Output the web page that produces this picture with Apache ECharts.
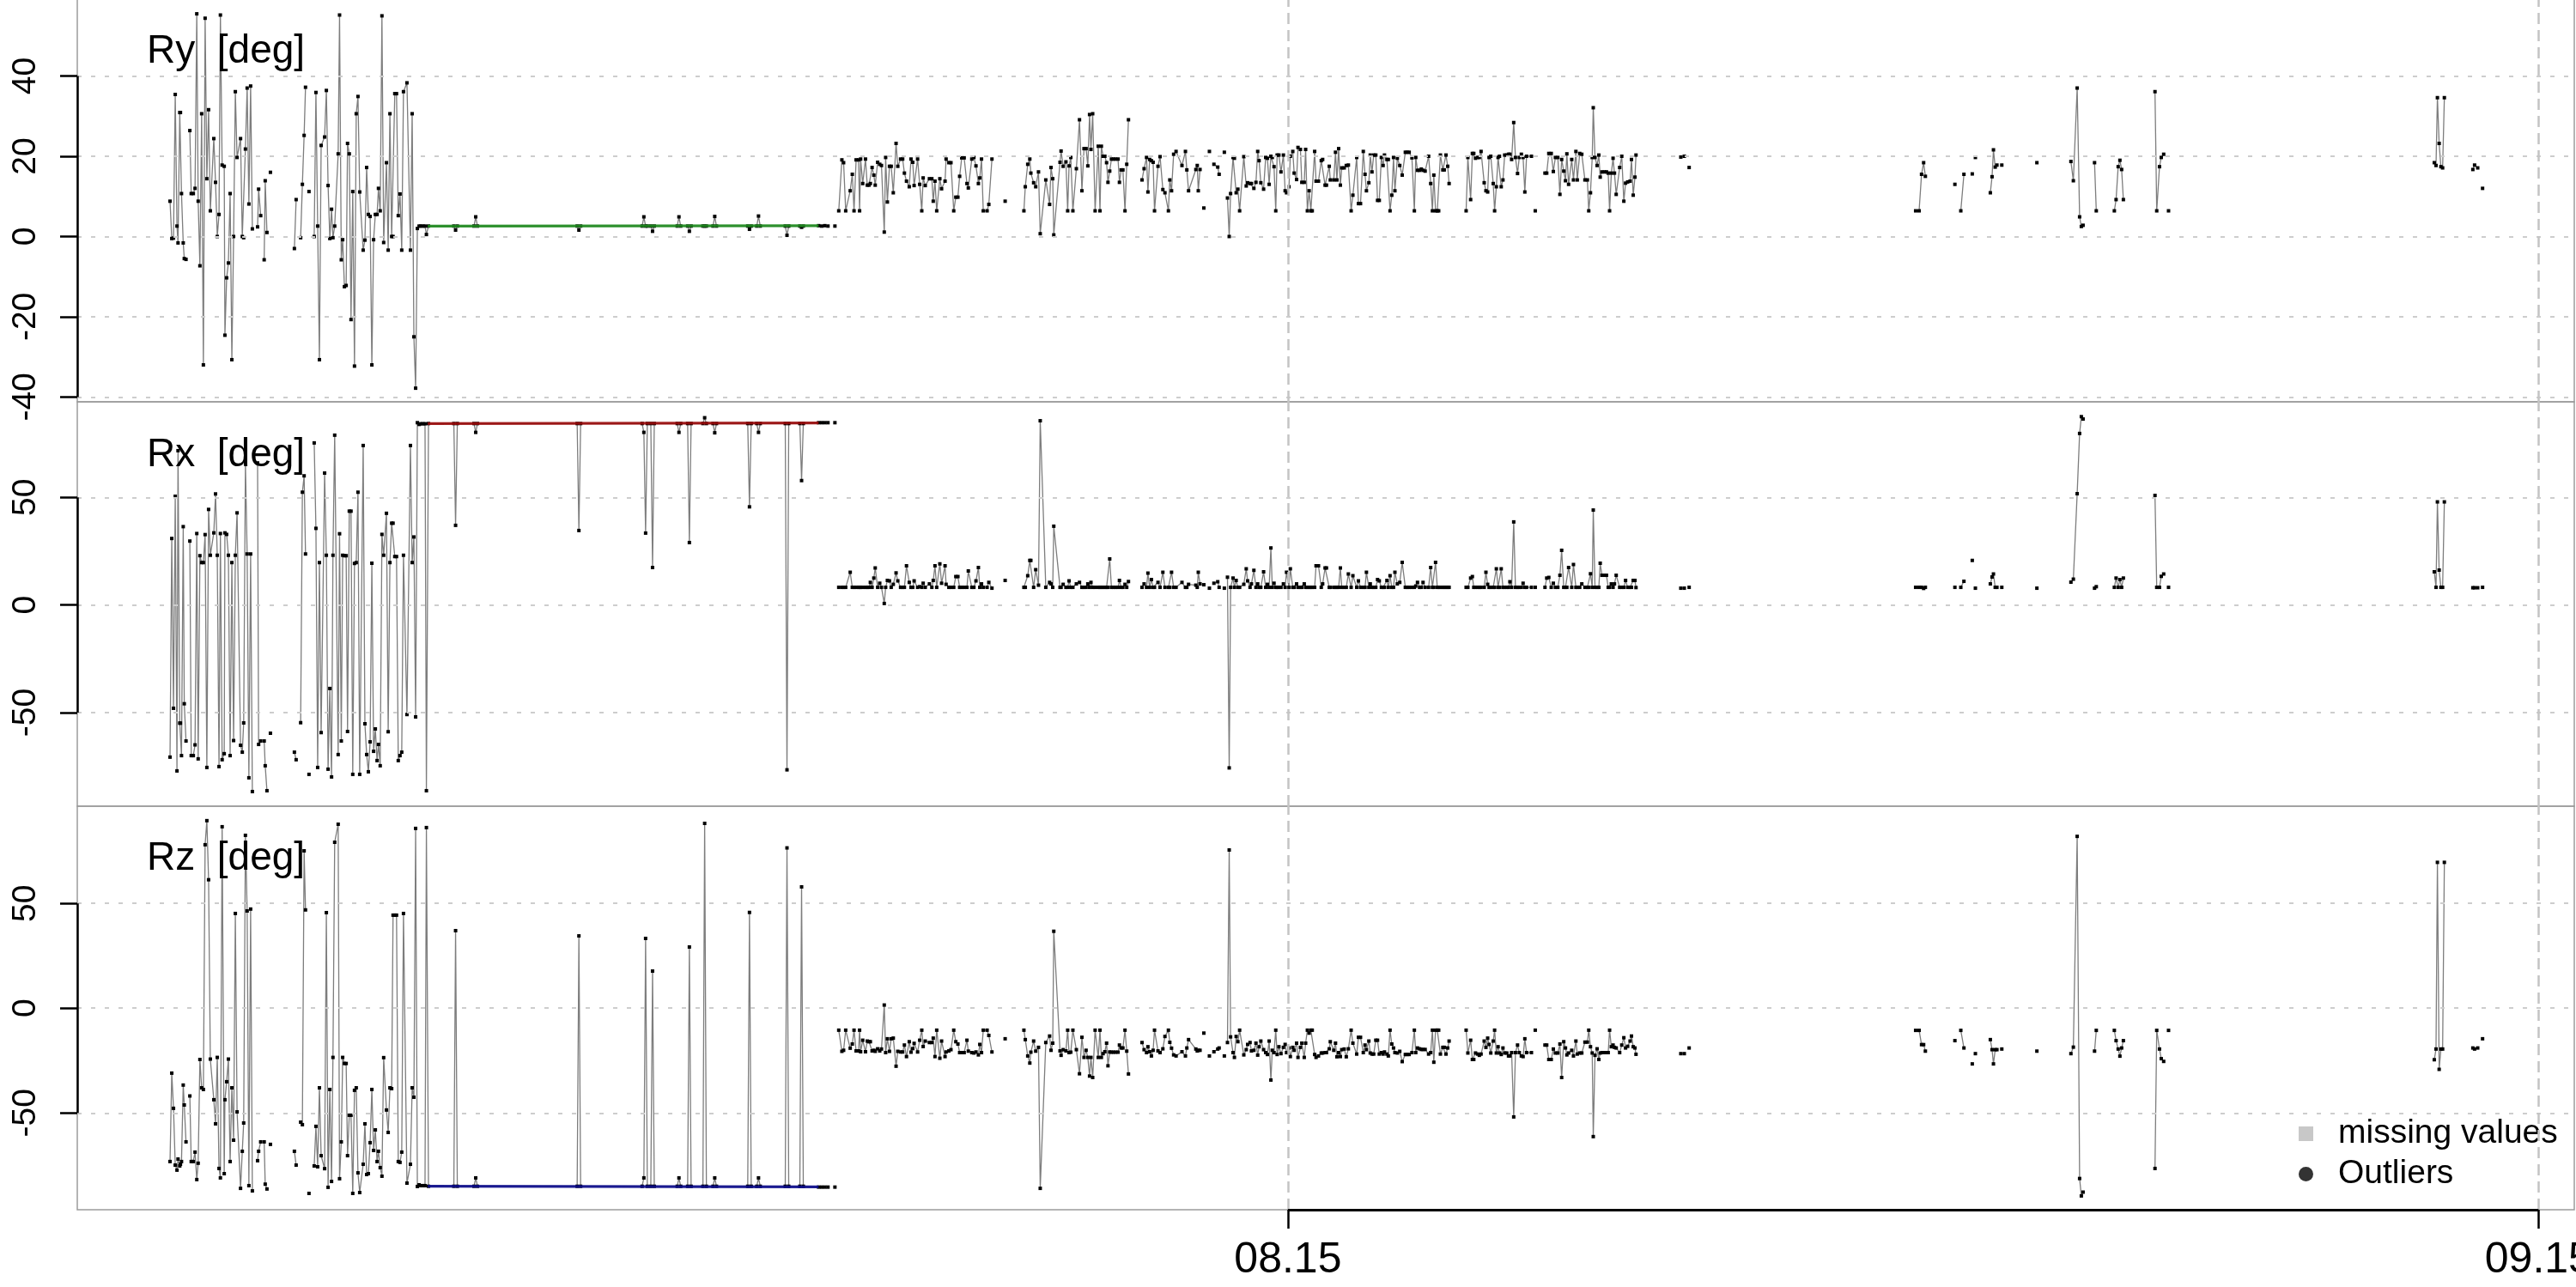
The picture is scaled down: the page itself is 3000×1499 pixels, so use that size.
<!DOCTYPE html>
<html>
<head>
<meta charset="utf-8">
<script src="https://cdn.jsdelivr.net/npm/echarts@6/dist/echarts.min.js"></script>
<style>
  html, body { margin: 0; padding: 0; background: #fff; }
  #chart { width: 3000px; height: 1499px; }
</style>
</head>
<body>
<div id="chart"></div>
<script>
// === Time: seconds relative to 08:15:00, null = missing sample (line break) ===

// first noisy stretch
const tNoisy = [-3218,-3213,-3208,-3203,-3198,-3195,-3190,-3188,-3185,-3180,-3177,-3172,null,
  -3161,-3157,-3151,-3146,-3141,-3137,-3132,-3127,-3122,-3117,-3112,-3107,-3102,-3092,-3087,-3082,-3077,-3073,-3068,-3062,-3060,-3055,-3050,-3045,-3040,-3035,-3030,-3025,-3015,-3010,-3006,-3001,-2996,-2991,-2986,-2981,null,
  -2966,-2963,-2957,null,-2947,-2944,-2939,null,-2929,null,-2860,-2855,null,-2842,-2837,-2832,-2828,null,-2818,null,
  -2803,-2798,-2793,-2788,-2783,-2773,-2768,-2763,-2758,-2753,-2749,-2744,
  -2734,-2730,-2725,-2721,-2716,-2711,-2707,-2702,-2697,-2692,-2687,-2682,-2677,-2672,
  -2662,-2657,-2652,-2647,-2642,-2637,-2632,-2627,-2622,-2618,-2613,-2608,-2603,
  -2595,-2590,-2585,-2580,-2576,-2571,-2566,-2561,-2556,-2551,-2546,
  -2536,-2526,-2521,-2516,-2511,-2506,-2501,-2496,-2490,-2484,-2480];
const ryNoisy = [8.8,-0.5,-0.4,35.4,2.6,-1.6,30.9,30.9,10.7,-1.6,-5.5,-5.7,null,
  26.4,10.7,10.7,12,55.5,8.8,-7.3,30.6,-32,54.4,14.4,31.6,6.4,24.4,13.5,0,5.5,55.2,17.8,17.5,-24.6,-10.3,-6.6,10.7,-30.7,0,36.1,19.7,24.4,0,-0.3,21.8,37,8.1,37.5,1.9,null,
  2.4,11.8,5.2,null,-5.8,13.9,1,null,16,null,-3,9.2,null,-0.3,13,25.2,37.2,null,11.2,null,
  0,35.9,2.6,-30.7,22.7,24.8,36.4,12.7,-0.5,6.8,-0.3,2.6,
  20.6,55.2,-5.8,-0.8,-12.5,-12.2,23.2,20.6,-20.7,11.2,-32.3,30.6,34.9,11.1,
  -3.4,-0.9,17.2,5.5,5,-32,-0.8,5.5,5.5,12,6.4,55,-1.5,
  18.4,-3.4,30.6,0,0,35.6,35.6,5.2,10.6,-3.4,36.1,
  38.3,-3.4,30.6,-25,-37.8,2,2.6,2.6,2.6,2.6,0.5];
const rxNoisy = [-70.7,30.9,-48,50.5,-77.1,71.7,-54.9,-54.9,-70,36.4,-45.9,-63.2,null,
  29.7,-70,-70,-65,33.2,-71.5,22.9,19.7,19.7,32.7,-75.5,44.4,23.1,33.5,51.6,23.1,-75.1,33.2,-71.9,-69.1,33.5,32.8,23.1,-70,19.7,-63,23.1,42.8,-65.2,-68.4,-54.8,66,23.7,-80.3,23.7,-86.7,null,
  66,-64.8,-63.2,null,-63.2,-74.7,-86.3,null,-59.6,null,-68.4,-71.9,null,-54.7,52.4,60,23.7,null,-78.7,null,
  75.3,35.6,-75.5,19.7,-59.3,61.3,23.1,-76.3,-38.8,-79.9,23.1,78.9,
  -69.5,33.1,-63.2,23.1,22.9,22.9,-58.8,43.6,43.6,-78.7,19.3,19.7,52.4,-78.7,
  74.1,-55.2,-69.5,-77.5,-63.6,19.4,-68,-57.6,-72.3,-64.8,-74.7,32.8,23.1,
  42.6,-58.9,19.7,38,38,22.5,22.5,-72.3,-70,-68.4,23.1,
  -50.9,74.1,19.7,31.6,-52,84.7,83.9,84.2,84.2,84.2,-86.3];
const rzNoisy = [-73.2,-31,-47.8,-74.9,-77.3,-72,-75.3,-74.5,-73.2,-36.7,-46.2,-63.8,null,
  -41.9,-73.2,-73.2,-68.7,-81.8,-74,-24.5,-38,-38.8,78,89.5,61.3,-24.3,-43.7,-55.2,-23.5,-76.5,-81,86.6,-79,-43.7,-35.1,-24.3,-73.2,-38,-63,45.2,-49.5,-86,-68.3,-54.8,82.5,46.4,-84.7,47.3,-87.2,null,
  -72.8,-68.3,-63.8,null,-63.8,-84,-86.3,null,-65,null,-68.3,-74.9,null,-54.4,-55.6,75.1,46.9,null,-88.4,null,
  -75.3,-56.4,-75.7,-38,-70.4,-76.6,45.6,-85.5,-38.8,-82.7,-23.5,79.2,
  87.8,-81.4,-63.8,-23.5,-26.4,-26.4,-70.4,-51.1,-51.1,-88.4,-39.2,-38,-78.6,-88,
  -74.5,-55.2,-79.4,-79,-64.2,-38.8,-67.9,-58.1,-73.2,-68.3,-76.1,-80.2,-23.6,
  -48.6,-59.3,-38,-38.4,44.4,44.4,44.4,-73.2,-73.6,-68.7,45.2,
  -83.5,-74.5,-38,-42.5,85.8,-85.1,-84.3,-84.7,-84.7,-84.7,86.2];

// resting stretch (sensor flat, with short excursions)
const tFlat = [-2474,-2401,-2396,-2391,-2343,-2338,-2333,-2046,-2041,-2036,-1859,-1854,-1849,-1844,-1834,-1829,-1824,
  -1758,-1753,-1748,-1728,-1723,-1718,-1684,-1679,-1674,-1655,-1650,-1645,-1555,-1550,-1545,-1529,-1524,-1519,
  -1447,-1442,-1437,-1405,-1400,-1395,-1351,-1342,-1333,-1324,null,-1304];
const ryFlat = [2.6,2.6,1.6,2.6,2.6,4.9,2.6,2.6,1.6,2.6,2.6,4.9,2.6,2.6,2.6,1.3,2.6,
  2.6,4.9,2.6,2.6,1.3,2.6,2.6,2.6,2.6,2.6,5,2.6,2.6,1.8,2.6,2.6,5.1,2.6,
  2.6,0.3,2.6,2.6,2.3,2.6,2.7,2.6,2.7,2.6,null,2.6];
const rxFlat = [84.3,84.3,37,84.3,84.3,80.2,84.3,84.3,34.6,84.3,84.3,80.2,33.4,84.3,84.3,17.4,84.3,
  84.3,80.2,84.3,84.3,29,84.3,84.3,87,84.3,84.3,80,84.3,84.3,45.6,84.3,84.3,80.2,84.3,
  84.3,-76.6,84.3,84.3,57.8,84.3,84.7,84.7,84.7,84.7,null,84.7];
const rzFlat = [-85,-85,37,-85,-85,-81,-85,-85,34.5,-85,-85,-81,33.3,-85,-85,17.7,-85,
  -85,-81,-85,-85,29.2,-85,-85,88.2,-85,-85,-81,-85,-85,45.7,-85,-85,-81,-85,
  -85,76.5,-85,-85,57.9,-85,-85.4,-85.4,-85.4,-85.4,null,-85.4];

// coloured trace over the resting stretch
const tRest = [-2476, -1351];
const ryRest = [2.6, 2.7];
const rxRest = [84.3, 84.6];
const rzRest = [-85, -85.3];

// dense stretch around 08.15
const tDense = [-1293,-1284,-1279,-1273,-1260,-1254,-1249,-1243,-1236,-1233,-1230,-1224,-1216,-1211,-1206,-1202,-1197,-1192,-1188,-1181,
  -1175,-1170,-1162,-1158,-1153,-1147,-1142,-1136,-1128,-1123,-1115,-1109,-1104,-1098,-1090,-1085,-1080,-1076,-1066,-1060,
  -1054,-1050,-1044,-1032,-1025,-1021,-1016,-1011,-1002,-997,-987,-984,-976,-970,-962,-956,-950,-945,-939,-932,
  -924,-920,-910,-904,-898,-891,-887,-882,-877,-866,-861,-852,null,-814,null,
  -760,-756,-749,-743,-740,-732,-726,-718,-713,-697,-686,-682,-677,-674,-656,-653,-647,-639,-634,-630,-625,-619,-609,
  -600,-593,-587,-581,-576,-571,-567,-562,-555,-546,-541,-537,-532,-527,-522,-518,-513,-508,-502,-496,-489,-485,-480,-475,-469,-464,-459,null,
  -420,-414,-407,-403,-398,-393,-388,-384,-374,-368,-360,-354,-344,-340,-335,-329,-322,-305,-295,-291,-286,-265,-261,-258,-253,null,
  -242,null,-226,null,-213,-202,-198,null,-183,null,
  -174,-169,-165,-158,-154,-149,-144,-139,-127,-120,-116,-109,-105,-98,-92,-87,-83,-78,-70,-64,
  -59,-54,-49,-45,-40,-35,-31,-26,-20,-13,-8,-4,3,7,14,18,25,29,36,40,
  47,51,56,61,66,70,77,81,88,96,100,107,111,119,122,132,137,141,146,151,
  155,162,168,174,182,187,198,203,209,217,222,226,233,237,242,247,253,258,263,269,
  274,278,285,289,294,299,304,308,315,322,329,338,343,349,357,364,368,373,379,384,
  389,395,405,411,416,420,425,430,434,439,446,450,455,460,464,null,
  513,518,526,531,535,540,546,551,556,565,570,575,579,584,591,595,600,605,609,614,
  619,624,630,635,639,644,650,655,661,666,672,677,682,687,701,null,712,null,
  740,745,751,758,764,770,777,783,788,794,799,803,808,817,822,829,833,840,846,855,
  862,866,871,876,879,884,890,895,899,904,911,917,922,926,931,936,940,945,955,961,
  967,972,978,985,989,994,999,1002];
const ryDense = [6.4,19.1,18.4,6.4,11.4,15.5,6.4,19.1,19.1,6.4,19.3,13.2,19.3,12.8,12.8,13.2,17.2,15.3,12.8,18.5,
  18,17.7,1.1,19.7,8.6,17.5,17.5,10.9,23.2,17.5,19.3,19.3,15.8,13.8,12.4,19.3,18.5,12.7,19.3,13,
  6.4,14.6,12.7,14.4,14.4,8.8,13.8,6.4,14.4,11.9,13.8,19.3,18.4,18.4,6.4,9.8,9.8,15,19.6,19.6,
  13.2,12.1,19.3,19.7,17.6,13.2,14.6,19.3,6.4,6.4,8,19.3,null,8.8,null,
  6.4,12.4,18,19.3,15.8,13.4,12.4,16.1,0.7,14.1,8,17.2,14.4,0.4,18.5,21.3,17.5,18.6,6.4,17.6,19.7,6.4,16.9,
  29.1,11.4,21.9,21.9,17.6,30.4,21.7,30.6,6.4,22.5,6.4,22.5,20,20,18.4,13.5,16.3,19.3,19.3,19.3,19.3,13.5,16.6,16.6,6.4,18,29.1,null,
  14.1,16.9,19.7,11.1,19.2,18.9,18.5,6.4,17.5,19.9,11.7,10.9,6.4,14.1,11.4,20.5,21.2,17.7,21.2,16.6,11.4,16.7,17.7,11.4,16.7,null,
  7.1,null,21.2,null,18,17.3,15.5,null,21,null,
  9.6,0,10.7,19.7,19.5,10.9,11.8,6.4,19.9,12.6,13.4,13.2,13.2,12,13.5,21.2,18.9,13.4,11.8,19.7,
  19.5,13,20,19.7,17.4,6.4,20.3,20.3,16.1,20.3,11.4,10.9,12.4,20,21.2,15.8,14.2,22.2,21.7,13.5,
  13.5,21.7,6.4,11.4,6.4,6.4,21.2,13.8,13.8,18.9,19.2,12.8,12.8,17.5,14.1,14.1,21,14.1,21.9,12.8,
  17.1,17.1,17.7,17.8,6.4,10.3,19.7,8.2,8.2,21.2,15.5,11.4,13.4,20.3,16.1,20.3,20.3,9,9,19.7,
  17.7,20.3,19.2,19.2,6.4,10.3,19.7,11.4,19.5,17.7,15.3,21,21,21,19.6,6.4,19.7,16.5,16.5,16.8,
  16.5,16.3,20,13.2,6.4,15.3,6.4,6.4,6.4,20.3,16.6,16.6,20.3,17.5,13.2,null,
  6.4,19.7,9.2,20.7,20.7,19.5,19.7,19.7,21.2,13.4,11.4,11.1,19.7,20,13.2,6.4,12.4,19.7,20,12.4,
  14.1,20.3,20.3,20.5,20.5,19.2,28.4,19.7,15.7,19.7,20.5,19.7,11.1,20,20,null,6.4,null,
  15.8,15.8,20.7,20.7,16.2,19.7,19.7,10.5,19.2,16.3,13.9,20.6,13,19.2,14.1,21.2,14.1,20.7,20.5,14.1,
  14.1,6.4,10.9,19.7,32.1,19.7,17.7,20.3,14.8,16.1,16.1,16.1,15.8,6.4,15.8,19.5,15.8,10.5,17.2,20,
  8.8,13.3,13.6,13.8,19.2,10.3,14.8,20.3];
const rxDense = [8.2,8.2,8.2,8.2,15.2,8.2,8.2,8.2,8.2,8.2,8.2,8.2,8.2,8.2,8.2,10.5,8.2,12.5,17.2,8.2,
  10.1,8.2,0.7,8.2,11.4,11.2,8.2,9.6,14.9,11.2,8.2,8.2,8.2,18.2,10.5,8.2,8.2,11.2,8.2,8.5,
  8.2,10.1,8.2,9.8,8.2,11.4,18.2,8.2,19.1,10.1,18.2,9.6,8.2,8.2,8.2,13.2,13.2,8.2,8.2,8.2,
  8.2,15.8,8.2,8.2,11.2,17.4,8.2,9.8,8.2,8.2,10.5,7.8,null,11.4,null,
  8.2,8.2,13.6,20.7,20.7,8.2,16.4,9.2,85.6,8.2,10.5,9.8,8.2,36.6,8.2,8.2,9.6,8.2,8.2,11.2,8.2,8.2,9.8,
  10.5,8.2,8.2,8.2,9.8,8.2,10.5,8.2,8.2,8.2,8.2,8.2,8.2,8.2,8.2,8.2,21.4,8.2,8.2,8.2,8.2,11.4,8.2,8.2,9.6,8.2,10.9,null,
  8.2,9.8,8.2,14.8,8.2,11.8,8.2,8.2,10.5,8.2,15.2,8.2,8.2,8.2,15.2,8.2,8.2,10.5,8.2,8.2,9.6,9.2,8.2,15.2,9.8,null,
  9.4,null,7.8,null,10.1,10.8,8.2,null,7.8,null,
  12.9,-75.7,8.2,12.5,8.2,11.4,8.2,8.2,9.6,16.8,11.2,8.2,9.8,16.1,8.2,9.8,8.2,8.2,15.4,8.2,
  9.6,8.2,26.5,8.2,10.1,8.2,8.2,8.2,8.2,9.8,8.2,15.2,8.2,16.8,8.2,8.2,9.8,8.2,8.2,8.2,
  9.8,8.2,8.2,8.2,8.2,8.2,8.2,18.2,18.2,8.2,9.8,17.2,17.2,8.2,8.2,8.2,8.2,8.2,8.2,17.2,
  8.2,8.2,8.2,14.4,8.2,13.6,8.2,11.2,8.2,8.2,8.2,15.2,8.2,9.8,8.2,8.2,8.2,11.8,11.2,8.2,
  8.2,8.2,11.4,8.2,13.6,8.2,8.2,15.2,9.8,10.5,19.8,8.2,8.2,8.2,8.2,8.2,8.8,10.5,8.2,8.2,
  10.5,8.2,8.2,17.4,8.2,8.2,19.8,8.2,8.2,8.2,8.2,8.2,8.2,8.2,8.2,null,
  8.2,8.2,12.5,13.2,8.2,8.2,8.2,8.2,8.2,8.2,15.2,9.6,8.2,8.2,8.2,8.2,16.8,8.2,8.2,16.8,
  8.2,8.2,8.2,8.2,10.8,8.2,38.6,8.2,8.2,8.2,8.2,10.1,8.2,8.2,8.2,null,8.2,null,
  8.2,12.5,12.8,8.2,10.1,8.2,8.2,13.8,25.4,8.2,8.2,8.2,17.4,8.2,18.8,8.2,8.2,8.2,9.8,8.2,
  8.2,8.2,14.5,8.2,44.1,8.2,8.2,8.2,19.4,13.8,13.8,13.8,8.2,8.2,9.8,8.2,9.8,13.8,8.2,8.2,
  8.2,11.4,8.2,8.2,8.2,11.4,11.4,8.1];
const rzDense = [-10.5,-20.6,-20.1,-10.5,-19.1,-17.1,-10.5,-20.4,-20.4,-10.5,-20.8,-15.3,-20.8,-15.7,-16,-16,-20.4,-20.1,-20.6,-19.4,
  -20.4,-19.5,1.5,-21.2,-14.6,-20.6,-14.6,-14.3,-27.7,-20.6,-20.9,-20.9,-17.6,-23.1,-16,-21,-19.3,-16.8,-20.9,-15.3,
  -10.5,-18.3,-15.7,-16.4,-16.4,-14.3,-23.1,-10.5,-23.9,-15.7,-23.1,-20.9,-20.4,-19.8,-10.5,-16,-17.1,-21.2,-21.2,-21.2,
  -15.3,-20.5,-21.2,-21.4,-20.9,-22.3,-17.3,-21.2,-10.5,-10.5,-13,-20.9,null,-14.6,null,
  -10.5,-15,-22.8,-26.2,-21,-15.7,-20.5,-18.7,-86,-16.4,-13.3,-20.1,-16.7,36.7,-20.4,-22.5,-19.8,-20.4,-10.5,-21.2,-21,-10.5,-19.8,
  -31.3,-13.9,-23.5,-20.1,-23.5,-32.4,-23.5,-33.1,-10.5,-23.5,-10.5,-23.5,-21.7,-20.8,-16.7,-27.5,-20.9,-21,-21,-21,-21,-17.6,-19,-19,-10.5,-20.5,-31.4,null,
  -16.4,-19.8,-21.2,-18.4,-20.8,-22.8,-20.1,-10.5,-20.4,-21.2,-19.4,-13.5,-10.5,-16.3,-19.1,-22.3,-22.8,-20.8,-22.8,-19,-15,-19.5,-20.4,-20.1,-20.1,null,
  -11.9,null,-22.8,null,-20.8,-19.5,-19,null,-22.8,null,
  -16.4,75.5,-13.7,-21.2,-23.5,-13.5,-16,-10.5,-22.3,-19.8,-17.3,-16.4,-20.4,-20.1,-16.7,-22.4,-18.4,-15.7,-19.8,-21.2,
  -22.1,-15.7,-34.3,-20.1,-21.2,-10.5,-22.1,-18.4,-21.7,-18.7,-17.3,-21.2,-19,-23.1,-18.7,-20.1,-16.7,-23.5,-18.7,-16.7,
  -23.5,-16.7,-10.5,-11.9,-10.5,-10.5,-22.1,-23.5,-22.8,-21.4,-21.4,-21.2,-21.2,-19.4,-16,-20.1,-16.7,-23.2,-21.2,-23.1,
  -19.8,-19.5,-23.2,-19.4,-10.5,-16.7,-21.9,-13.9,-13.9,-21.2,-17.6,-19.8,-15.7,-21.4,-21.9,-21.9,-15.3,-15.3,-21.9,-21.2,
  -21.9,-20.9,-21.9,-22.8,-10.5,-17.1,-19,-21.2,-21.4,-20.6,-25.5,-22.1,-22.1,-22.1,-21.2,-10.5,-21.2,-19,-19.4,-19.7,
  -19.7,-19.7,-21.9,-21.2,-10.5,-25.8,-10.5,-10.5,-10.5,-21.9,-18.7,-18.7,-21.9,-19,-15.7,null,
  -10.5,-21.4,-15.3,-24.5,-24.5,-21.4,-21.9,-22.5,-21.9,-15.7,-18.7,-14.3,-17.3,-21.4,-15.7,-10.5,-21.4,-18.4,-21.4,-22.1,
  -19,-21.4,-21.4,-22.8,-22.8,-21.2,-51.9,-21.2,-17.6,-21.2,-22.8,-23.1,-14.6,-21.2,-21.2,null,-10.5,null,
  -17.6,-17.6,-24.5,-24.5,-19.5,-21.4,-21.4,-17.1,-33.1,-16,-19,-22.3,-21.4,-20.1,-22.8,-15.7,-21.9,-21.4,-21.4,-16.2,
  -16.2,-10.5,-18.4,-21.4,-61.3,-22.5,-19.4,-24.5,-21.4,-21.2,-21.2,-21.2,-21.2,-10.5,-18.4,-17.6,-18.7,-19,-21.2,-17.6,
  -14.1,-19,-18.2,-15.7,-13.3,-18.4,-19,-22];

// sparse stretch towards 09.15
const tSparse = [1131,1141,null,1155,null,1807,1817,1824,1830,1835,null,1920,null,1937,1946,null,1970,null,1979,null,
  2022,2027,2031,2036,2041,null,2055,null,2156,null,2254,2261,2272,2279,2284,2289,null,2322,2327,null,
  2379,2384,2390,2395,2400,2405,null,2496,2501,2509,2514,2521,null,2535,null,
  3300,3305,3309,3314,3319,3324,3329,null,3411,3416,3425,null,3439];
const rySparse = [19.8,20,null,17.2,null,6.4,6.4,15.5,18.4,15,null,13,null,6.4,15.5,null,15.6,null,19.7,null,
  10.9,14.9,21.6,17.3,17.8,null,17.8,null,18.4,null,18.7,13.9,37,4.9,2.5,2.8,null,18.4,6.4,null,
  6.4,9.2,17.4,19,16.7,9.2,null,36.1,6.4,17.4,19.7,20.5,null,6.4,null,
  18.4,17.7,34.6,23.2,17.4,17.1,34.6,null,16.7,17.8,17.1,null,12];
const rxSparse = [7.8,7.8,null,8.2,null,8.2,8.2,8.2,7.7,8.2,null,8.2,null,8.2,11,null,20.7,null,7.8,null,
  9.8,13,14.4,8.2,8.2,null,8.2,null,7.8,null,10.6,12,51.7,79.7,87.5,86.4,null,7.8,8.5,null,
  8.2,12.5,8.2,11.8,8.2,12.5,null,50.9,8.2,8.2,13.3,14.4,null,8.2,null,
  15.4,8.2,47.9,16.2,8.2,8.2,47.9,null,8,8,8,null,8.2];
const rzSparse = [-21.7,-21.7,null,-19,null,-10.6,-10.6,-17.4,-17.4,-20.5,null,-15.5,null,-10.6,-19,null,-26.6,null,-21.7,null,
  -15,-19.8,-26.6,-19.8,-19.8,null,-19.5,null,-20.5,null,-21.7,-18.6,82,-81.3,-89.6,-87.8,null,-20.5,-10.6,null,
  -10.6,-15.5,-19.5,-22.9,-19,-15.5,null,-76.5,-10.6,-19.5,-24.1,-25.4,null,-10.6,null,
  -24.6,-19.5,69.6,-29.2,-19.5,-19.5,69.6,null,-19,-19.5,-19,null,-14.6];

// === Panels and axes ===
const panelNames = ['Ry  [deg]', 'Rx  [deg]', 'Rz  [deg]'];
const yRanges = [[-41.2, 59.8], [-93.5, 94.4], [-96.2, 96.4]];
const yTicks = [[-40, -20, 0, 20, 40], [-50, 0, 50], [-50, 0, 50]];
const xRange = [-3485, 3703];
const xTicks = [0, 3600];
const legendNames = ['missing values', 'Outliers'];

const BASE = 8 * 3600 + 15 * 60;
const clock = s => {
  const t = BASE + s;
  return String(Math.floor(t / 3600)).padStart(2, '0') + '.' + String(Math.round((t % 3600) / 60)).padStart(2, '0');
};

// [t, v] pairs, '-' marks a missing sample so the line breaks
function seg(t, v) {
  return t.map((x, i) => v[i] == null ? [x ?? t[i - 1], '-'] : [x, v[i]]);
}
function series(parts) {
  const out = [];
  parts.forEach(([t, v, joined], k) => {
    if (k > 0 && !joined) out.push([t[0], '-']);
    out.push(...seg(t, v));
  });
  return out;
}

const values = [
  [ryNoisy, ryFlat, ryDense, rySparse, ryRest],
  [rxNoisy, rxFlat, rxDense, rxSparse, rxRest],
  [rzNoisy, rzFlat, rzDense, rzSparse, rzRest]
];
const restColor = ['#1e8c1e', '#9a0a0a', '#0a0a8c'];

const grids = [
  { left: 90, width: 2908, top: -4, height: 472 },
  { left: 90, width: 2908, top: 468, height: 471 },
  { left: 90, width: 2908, top: 939, height: 470 }
].map(g => ({ ...g, show: true, borderColor: '#9c9c9c', borderWidth: 1.5, backgroundColor: 'transparent',
  containLabel: false, outerBoundsMode: 'none' }));

const FONT = 'Liberation Sans, Arial, Helvetica, sans-serif';

const xAxes = grids.map((g, i) => ({
  type: 'value', gridIndex: i, min: xRange[0], max: xRange[1],
  axisLine: { show: false, onZero: false }, splitLine: { show: false },
  axisTick: i === 2 ? { show: true, customValues: xTicks, length: 22, lineStyle: { color: '#000', width: 2.5 } } : { show: false },
  axisLabel: i === 2 ? { show: true, customValues: xTicks, formatter: v => clock(v), fontSize: 50, color: '#000', fontFamily: FONT, margin: 34 } : { show: false }
}));
const yAxes = grids.map((g, i) => ({
  type: 'value', gridIndex: i, min: yRanges[i][0], max: yRanges[i][1],
  axisLine: { show: false, onZero: false }, splitLine: { show: false },
  axisTick: { show: true, customValues: yTicks[i], length: 20, lineStyle: { color: '#000', width: 2.5 } },
  axisLabel: { show: true, customValues: yTicks[i], rotate: 90, fontSize: 39, color: '#000', fontFamily: FONT, margin: 40 }
}));

const allSeries = [];
values.forEach((v, i) => {
  // background: dotted grid, dashed hour lines, R-style axis line
  const axisSeg = [[{ coord: [xRange[0], yTicks[i][0]] }, { coord: [xRange[0], yTicks[i][yTicks[i].length - 1]] }]];
  if (i === 2) axisSeg.push([{ coord: [xTicks[0], yRanges[2][0]] }, { coord: [xTicks[1], yRanges[2][0]] }]);
  allSeries.push({
    type: 'line', xAxisIndex: i, yAxisIndex: i, data: [], silent: true, clip: false, z: 1,
    markLine: {
      silent: true, symbol: 'none', label: { show: false }, animation: false,
      data: [
        ...yTicks[i].map(y => ({ yAxis: y, lineStyle: { color: '#cdcdcd', width: 2, type: [5, 11] } })),
        ...xTicks.map(x => ({ xAxis: x, lineStyle: { color: '#c4c4c4', width: 2.5, type: [13, 7] } })),
        ...axisSeg.map((s, k) => [{ ...s[0], lineStyle: { color: '#000', width: k === 1 ? 3 : 2.5, type: 'solid' } }, s[1]])
      ]
    }
  });
  allSeries.push({
    type: 'line', xAxisIndex: i, yAxisIndex: i, z: 2,
    data: series([[tNoisy, v[0], false], [tFlat, v[1], true], [tDense, v[2], false], [tSparse, v[3], false]]),
    connectNulls: false, showAllSymbol: true, symbol: 'rect', symbolSize: 4,
    itemStyle: { color: '#000' }, lineStyle: { color: '#7d7d7d', width: 1.3 }
  });
  allSeries.push({
    type: 'line', xAxisIndex: i, yAxisIndex: i, z: 3, symbol: 'none',
    data: seg(tRest, v[4]), lineStyle: { color: restColor[i], width: 3.2, opacity: 0.9 }
  });
});
// legend entries
allSeries.push({ name: legendNames[0], type: 'line', xAxisIndex: 2, yAxisIndex: 2, data: [], itemStyle: { color: '#c8c8c8' } });
allSeries.push({ name: legendNames[1], type: 'scatter', xAxisIndex: 2, yAxisIndex: 2, data: [], itemStyle: { color: '#000' } });

const chart = echarts.init(document.getElementById('chart'), null, { renderer: 'canvas' });
chart.setOption({
  animation: false,
  backgroundColor: '#fff',
  title: panelNames.map((n, i) => ({
    text: n, left: 166, top: [32, 502, 972][i],
    textStyle: { fontSize: 46, fontWeight: 'normal', color: '#000', fontFamily: FONT }
  })),
  legend: {
    orient: 'vertical', left: 2672, top: 1296, itemGap: 8, itemWidth: 17, itemHeight: 17,
    selectedMode: false,
    textStyle: { fontSize: 39, color: '#000', fontFamily: FONT, padding: [0, 0, 0, 24] },
    data: [
      { name: legendNames[0], icon: 'rect' },
      { name: legendNames[1], icon: 'circle', itemStyle: { color: '#000' } }
    ]
  },
  grid: grids, xAxis: xAxes, yAxis: yAxes, series: allSeries
});
</script>
</body>
</html>
